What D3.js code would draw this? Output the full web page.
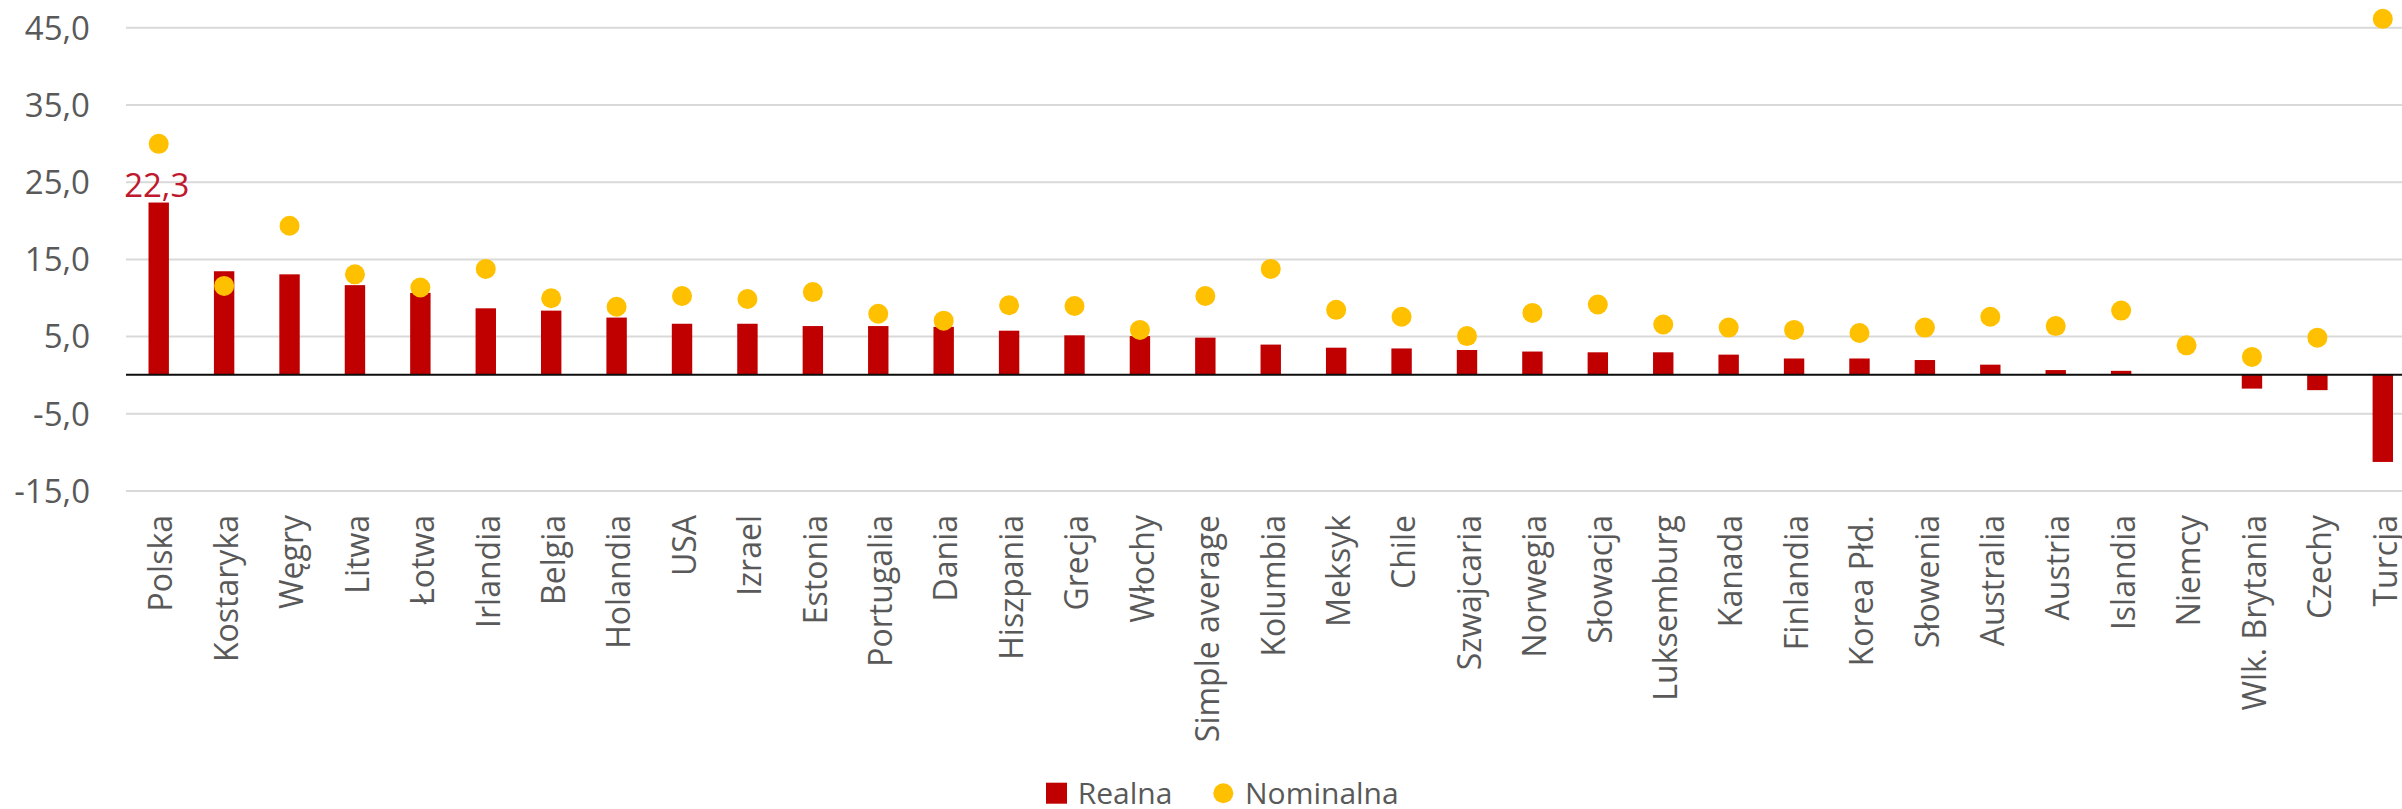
<!DOCTYPE html>
<html>
<head>
<meta charset="utf-8">
<script src="https://cdn.jsdelivr.net/npm/d3@7"></script>
<style>
  html, body { margin: 0; padding: 0; background: #ffffff; }
  svg { display: block; }
  text { font-family: "Open Sans", "Noto Sans", sans-serif; }
</style>
</head>
<body>
<svg id="chart" width="2402" height="809"></svg>
<script>
const categories = ["Polska","Kostaryka","Węgry","Litwa","Łotwa","Irlandia","Belgia","Holandia","USA","Izrael","Estonia","Portugalia","Dania","Hiszpania","Grecja","Włochy","Simple average","Kolumbia","Meksyk","Chile","Szwajcaria","Norwegia","Słowacja","Luksemburg","Kanada","Finlandia","Korea Płd.","Słowenia","Australia","Austria","Islandia","Niemcy","Wlk. Brytania","Czechy","Turcja"];
const realna = [22.3,13.4,13.0,11.6,10.6,8.6,8.3,7.4,6.6,6.6,6.3,6.3,6.2,5.7,5.1,5.0,4.8,3.9,3.5,3.4,3.2,3.0,2.9,2.9,2.6,2.1,2.1,1.9,1.3,0.6,0.5,0.0,-1.8,-2.0,-11.3];
const nominalna = [29.9,11.5,19.3,13.0,11.3,13.7,9.9,8.8,10.2,9.8,10.7,7.9,7.0,9.0,8.9,5.8,10.2,13.7,8.4,7.5,5.0,8.0,9.1,6.5,6.1,5.8,5.4,6.1,7.5,6.3,8.3,3.8,2.3,4.8,46.1];
const yTicks = [-15,-5,5,15,25,35,45];
const seriesNames = ["Realna","Nominalna"];
const labelledIndex = [0];

(function () {
const colReal = "#C00000", colNom = "#FFC000", colText = "#595959";

const svg = d3.select("#chart");
const pLeft = 126, pRight = 2415.5, pTop = 27.3, pBottom = 490.5;

const x = d3.scaleBand().domain(categories).range([pLeft, pRight]).paddingInner(0.688).paddingOuter(0.344);
const y = d3.scaleLinear().domain([-15, 45]).range([pBottom, pTop]);

const fmt = v => d3.format(".1f")(v).replace(".", ",").replace("−", "-");

// y axis with gridlines
const yAxis = d3.axisLeft(y).tickValues(yTicks).tickFormat(fmt)
  .tickSizeInner(-(2402 - pLeft)).tickSizeOuter(0).tickPadding(36);
const gy = svg.append("g").attr("transform", `translate(${pLeft},0)`).call(yAxis);
gy.select(".domain").remove();
gy.selectAll(".tick line").attr("stroke", "#d9d9d9").attr("stroke-width", 2);
gy.selectAll(".tick text").attr("fill", colText).attr("font-size", 33)
  .attr("font-family", "'Open Sans', sans-serif").attr("dy", "0.36em");

// bars
svg.append("g").selectAll("rect").data(realna).join("rect")
  .attr("x", (d, i) => x(categories[i]))
  .attr("width", x.bandwidth())
  .attr("y", d => y(Math.max(0, d)))
  .attr("height", d => Math.abs(y(d) - y(0)))
  .attr("fill", colReal);

// zero line
svg.append("line").attr("x1", pLeft).attr("x2", 2402)
  .attr("y1", y(0)).attr("y2", y(0)).attr("stroke", "#0d0d0d").attr("stroke-width", 2);

// dots
svg.append("g").selectAll("circle").data(nominalna).join("circle")
  .attr("cx", (d, i) => x(categories[i]) + x.bandwidth() / 2)
  .attr("cy", d => y(d))
  .attr("r", 10)
  .attr("fill", colNom);

// data label
svg.append("g").selectAll("text").data(labelledIndex).join("text")
  .attr("x", i => x(categories[i]) + x.bandwidth() / 2 - 2)
  .attr("y", i => y(realna[i]) - 6)
  .attr("text-anchor", "middle")
  .attr("font-size", 33)
  .attr("fill", "#C0182C")
  .text(i => fmt(realna[i]));

// category labels
svg.append("g").selectAll("text").data(categories).join("text")
  .attr("transform", d => `translate(${x(d) + x.bandwidth() / 2},515) rotate(-90)`)
  .attr("text-anchor", "end")
  .attr("dy", "0.43em")
  .attr("font-size", 32)
  .attr("fill", colText)
  .text(d => d);

// legend
const lg = svg.append("g");
lg.append("rect").attr("x", 1046).attr("y", 782.7).attr("width", 21).attr("height", 21).attr("fill", colReal);
lg.append("text").attr("x", 1077.7).attr("y", 803.5).attr("font-size", 30).attr("fill", colText).text(seriesNames[0]);
lg.append("circle").attr("cx", 1223.3).attr("cy", 793.3).attr("r", 10).attr("fill", colNom);
lg.append("text").attr("x", 1245).attr("y", 803.5).attr("font-size", 30).attr("fill", colText).text(seriesNames[1]);
})();
</script>
</body>
</html>
